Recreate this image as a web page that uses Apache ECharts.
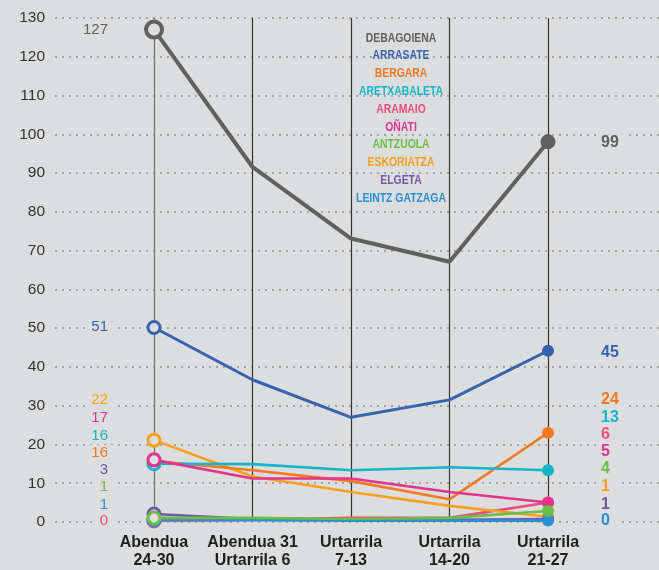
<!DOCTYPE html>
<html><head><meta charset="utf-8">
<script src="https://cdn.jsdelivr.net/npm/echarts@6/dist/echarts.min.js"></script>
<style>html,body{margin:0;padding:0;background:#dcdddf;}#c{width:659px;height:570px;}</style>
</head><body><div id="c"></div>
<script>
const categories = ['Abendua\n24-30', 'Abendua 31\nUrtarrila 6', 'Urtarrila\n7-13', 'Urtarrila\n14-20', 'Urtarrila\n21-27'];
const seriesNames = ['DEBAGOIENA', 'ARRASATE', 'BERGARA', 'ARETXABALETA', 'ARAMAIO', 'OÑATI', 'ANTZUOLA', 'ESKORIATZA', 'ELGETA', 'LEINTZ GATZAGA'];
const yTicks = [0, 10, 20, 30, 40, 50, 60, 70, 80, 90, 100, 110, 120, 130];

const debagoiena   = [127, 91.5, 73, 67, 98];
const arrasate     = [50, 36.5, 26.8, 31.3, 44];
const bergara      = [15.5, 13.1, 10.3, 5.6, 22.8];
const aretxabaleta = [14.8, 14.7, 13.1, 13.9, 13.1];
const aramaio      = [0, 0.3, 0.8, 0.8, 4.8];
const onati        = [15.8, 11, 11, 7.5, 4.8];
const antzuola     = [0.8, 0.8, 0.5, 0.8, 2.6];
const eskoriatza   = [20.9, 11.5, 7.5, 3.9, 1.1];
const elgeta       = [1.8, 0.5, 0.3, 0.3, 0.5];
const leintz       = [0.3, 0.2, 0.1, 0.1, 0.1];

// numbers printed beside first / last week
const firstLabels = [127, 51, 16, 16, 0, 17, 1, 22, 3, 1];
const lastLabels  = [99, 45, 24, 13, 6, 5, 4, 1, 1, 0];
// vertical placement (in axis units) of those printed numbers
const firstLabelAt = [127, 50.2, 17.7, 22.1, 0, 26.7, 8.7, 31.4, 13.3, 4.1];
const lastLabelAt  = [97.9, 43.5, 31.4, 26.7, 22.3, 18, 13.6, 9, 4.3, 0];

const allData = [debagoiena, arrasate, bergara, aretxabaleta, aramaio, onati, antzuola, eskoriatza, elgeta, leintz];
const colors = ['#606060', '#3763ae', '#f47920', '#14b5c9', '#ee4d7d', '#e2348e', '#6bbd46', '#f9a01c', '#7158a5', '#2a8fd6'];
const zOrder = [20, 19, 13, 14, 10, 16, 18, 12, 15, 17];
const BG = '#dcdddf';
const FONT = "'Liberation Sans', Arial, sans-serif";

const chart = echarts.init(document.getElementById('c'), null, {renderer: 'canvas'});

const series = allData.map((vals, si) => {
  const big = si === 0;
  const lw = big ? 4 : (si === 1 ? 3 : 2.6);
  const data = vals.map((v, i) => {
    if (i === 0) return {value: v, symbol: 'circle', symbolSize: big ? 16 : 12,
      itemStyle: {color: BG, borderColor: colors[si], borderWidth: big ? 4 : 3}};
    if (i === vals.length - 1) return {value: v, symbol: 'circle', symbolSize: big ? 15 : 12,
      itemStyle: {color: colors[si], borderWidth: 0}};
    return {value: v, symbol: 'none'};
  });
  const s = {
    name: seriesNames[si], type: 'line', xAxisIndex: 0, yAxisIndex: 0,
    data: data, color: colors[si], z: zOrder[si],
    lineStyle: {width: lw, color: colors[si]},
    showSymbol: true, animation: false,
    markPoint: {
      symbol: 'circle', symbolSize: 0, silent: true, animation: false,
      data: [
        {coord: [0, firstLabelAt[si]], value: firstLabels[si],
          label: {show: true, position: 'left', distance: 41, formatter: String(firstLabels[si]),
            color: colors[si], fontFamily: FONT, fontSize: 15, fontWeight: 'normal',
            backgroundColor: BG, padding: [0, 5]}},
        {coord: [4, lastLabelAt[si]], value: lastLabels[si],
          label: {show: true, position: 'right', distance: 49, formatter: String(lastLabels[si]),
            color: colors[si], fontFamily: FONT, fontSize: 16, fontWeight: 'bold',
            backgroundColor: BG, padding: [0, 8, 0, 4]}}
      ]
    }
  };
  if (si === 0) {
    s.markLine = {
      symbol: 'none', silent: true, animation: false, label: {show: false},
      data: categories.map((c, i) => ({xAxis: i,
        lineStyle: {color: i === 0 ? '#707070' : '#333333', width: 1.2, type: 'solid'}}))
    };
  }
  return s;
});

// hidden helper series so the background grid's axes exist
series.push({type: 'line', xAxisIndex: 1, yAxisIndex: 1, data: [], silent: true});

const legendGraphics = seriesNames.map((n, i) => ({
  type: 'text', x: 401, y: 38 + i * 17.8, z: 100, scaleX: 0.8,
  style: {text: n, fill: colors[i], font: "bold 13px " + FONT,
    textAlign: 'center', textVerticalAlign: 'middle'}
}));

chart.setOption({
  backgroundColor: BG,
  animation: false,
  grid: [
    {left: 104.75, right: 61.75, top: 18, bottom: 48},
    {left: 55, right: 0, top: 18, bottom: 48}
  ],
  xAxis: [
    {type: 'category', gridIndex: 0, data: categories, boundaryGap: true,
      axisLine: {show: false}, axisTick: {show: false}, splitLine: {show: false},
      axisLabel: {color: '#1e1e1e', fontFamily: FONT, fontWeight: 'bold', fontSize: 16,
        lineHeight: 18, margin: 13, interval: 0}},
    {type: 'value', gridIndex: 1, show: false, min: 0, max: 1}
  ],
  yAxis: [
    {type: 'value', gridIndex: 0, min: 0, max: 130, interval: 10, show: false},
    {type: 'value', gridIndex: 1, min: 0, max: 130, interval: 10,
      axisLine: {show: false}, axisTick: {show: false},
      axisLabel: {color: '#333', fontFamily: FONT, fontSize: 15.5, margin: 10,
        formatter: v => yTicks.includes(v) ? String(v) : ''},
      splitLine: {show: true, lineStyle: {color: '#a3a3a3', width: 2, type: [2, 5]}}}
  ],
  graphic: legendGraphics,
  series: series
});
</script></body></html>
